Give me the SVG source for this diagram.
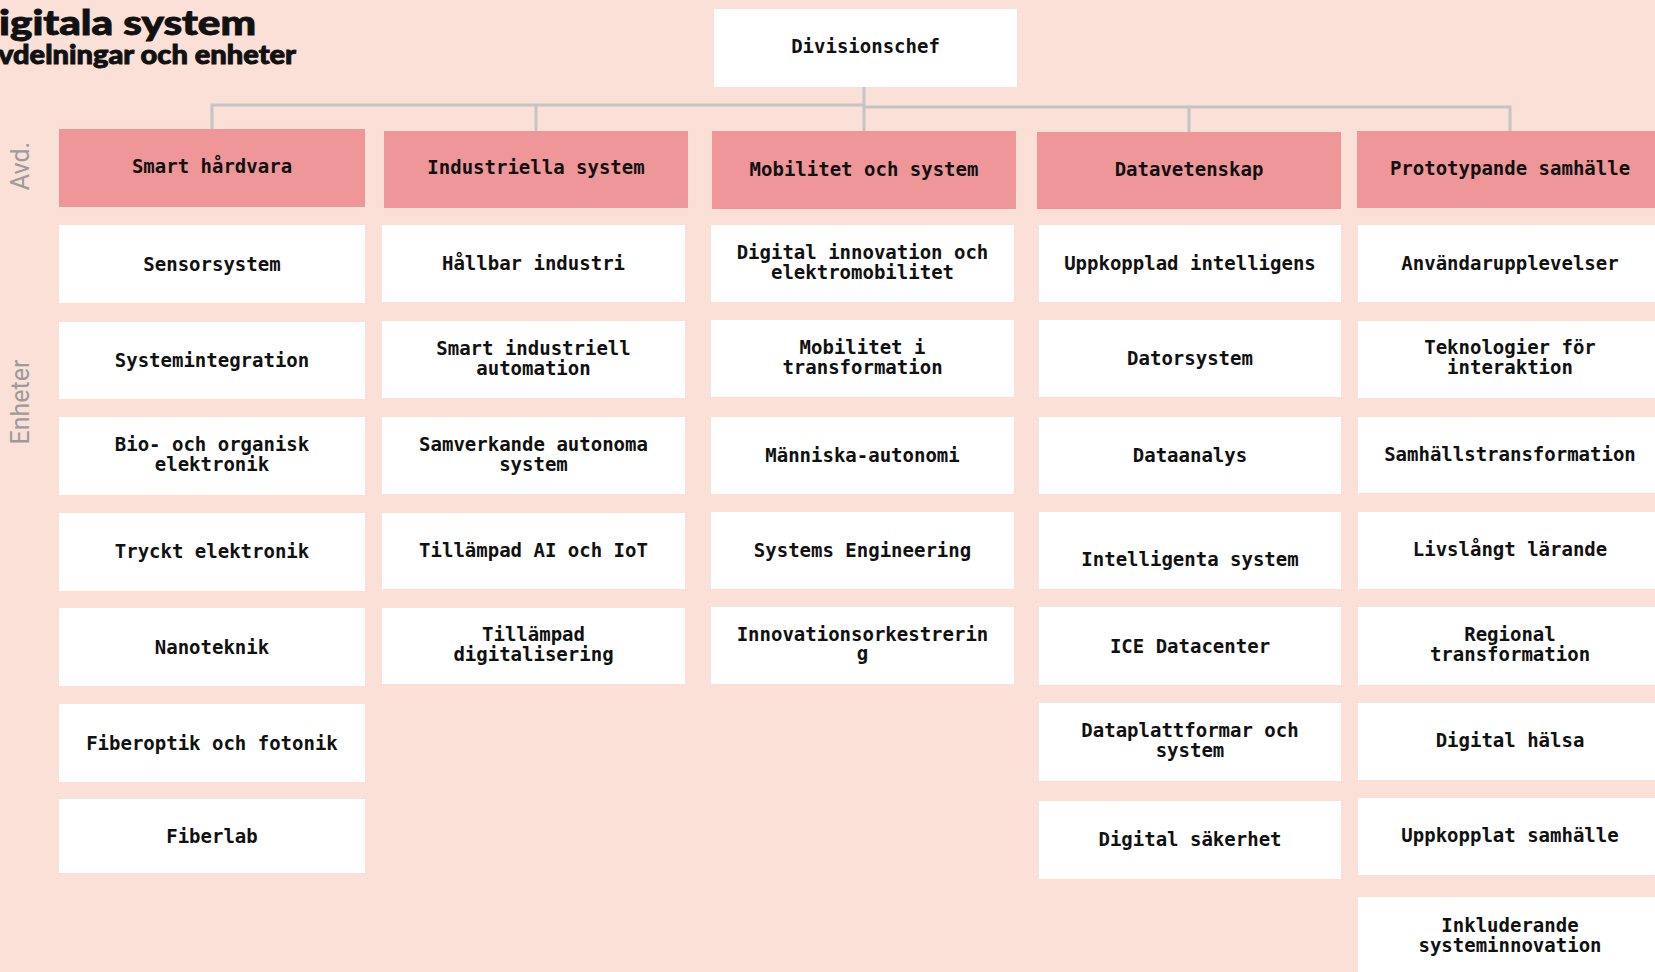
<svg xmlns="http://www.w3.org/2000/svg" width="1655" height="972" viewBox="0 0 1655 972">
<style>
.hdr{fill:#ef9698}
.unit{fill:#ffffff}
.t{font-family:"DejaVu Sans Mono","Liberation Mono",monospace;font-weight:bold;font-size:19px;fill:#111;text-anchor:middle}
.side{font-family:Roboto,"Liberation Sans",sans-serif;font-weight:400;font-size:25px;fill:#9d9a98;text-anchor:middle}
.ttl{font-family:Lato,"Liberation Sans",sans-serif;font-weight:900;fill:#111;stroke:#111;stroke-width:0.9}
.conn{fill:none;stroke:#c4c4c4;stroke-width:3}
</style>
<rect width="1655" height="972" fill="#fae0d7"/>
<g id="title">
<text class="ttl" x="-1" y="35" font-size="35" textLength="257" lengthAdjust="spacingAndGlyphs">igitala system</text>
<text class="ttl" x="-2" y="64" font-size="26" textLength="298" lengthAdjust="spacingAndGlyphs">vdelningar och enheter</text>
</g>
<g id="side-labels">
<text class="side" transform="translate(29,166) rotate(-90)">Avd.</text>
<text class="side" transform="translate(29,402) rotate(-90)">Enheter</text>
</g>
<g id="connectors">
<path class="conn" d="M864,87V131"/>
<path class="conn" d="M212,129V105H864"/>
<path class="conn" d="M536,131V105"/>
<path class="conn" d="M864,107H1510V131"/>
<path class="conn" d="M1189,107V132"/>
</g>
<g id="divisionschef"><rect class="unit" x="714" y="9" width="303" height="78"/><text class="t" x="865.5" y="53">Divisionschef</text></g>

<g id="col1">
<g id="smart-hardvara"><rect class="hdr" x="59" y="129" width="306" height="78"/><text class="t" x="212" y="173">Smart hårdvara</text></g>
<g id="sensorsystem"><rect class="unit" x="59" y="225" width="306" height="78"/><text class="t" x="212" y="271">Sensorsystem</text></g>
<g id="systemintegration"><rect class="unit" x="59" y="322" width="306" height="77"/><text class="t" x="212" y="367">Systemintegration</text></g>
<g id="bio-organisk"><rect class="unit" x="59" y="417" width="306" height="78"/><text class="t" x="212" y="451">Bio- och organisk<tspan x="212" dy="20">elektronik</tspan></text></g>
<g id="tryckt"><rect class="unit" x="59" y="513" width="306" height="78"/><text class="t" x="212" y="558">Tryckt elektronik</text></g>
<g id="nanoteknik"><rect class="unit" x="59" y="608" width="306" height="78"/><text class="t" x="212" y="654">Nanoteknik</text></g>
<g id="fiberoptik"><rect class="unit" x="59" y="704" width="306" height="78"/><text class="t" x="212" y="750">Fiberoptik och fotonik</text></g>
<g id="fiberlab"><rect class="unit" x="59" y="799" width="306" height="74"/><text class="t" x="212" y="843">Fiberlab</text></g>
</g>

<g id="col2">
<g id="industriella"><rect class="hdr" x="384" y="131" width="304" height="77"/><text class="t" x="536" y="174">Industriella system</text></g>
<g id="hallbar"><rect class="unit" x="382" y="225" width="303" height="77"/><text class="t" x="533.5" y="270">Hållbar industri</text></g>
<g id="smart-industriell"><rect class="unit" x="382" y="321" width="303" height="77"/><text class="t" x="533.5" y="355">Smart industriell<tspan x="533.5" dy="20">automation</tspan></text></g>
<g id="samverkande"><rect class="unit" x="382" y="417" width="303" height="77"/><text class="t" x="533.5" y="451">Samverkande autonoma<tspan x="533.5" dy="20">system</tspan></text></g>
<g id="ai-iot"><rect class="unit" x="382" y="513" width="303" height="76"/><text class="t" x="533.5" y="557">Tillämpad AI och IoT</text></g>
<g id="digitalisering"><rect class="unit" x="382" y="608" width="303" height="76"/><text class="t" x="533.5" y="641">Tillämpad<tspan x="533.5" dy="20">digitalisering</tspan></text></g>
</g>

<g id="col3">
<g id="mobilitet"><rect class="hdr" x="712" y="131" width="304" height="78"/><text class="t" x="864" y="176">Mobilitet och system</text></g>
<g id="digital-innovation"><rect class="unit" x="711" y="225" width="303" height="77"/><text class="t" x="862.5" y="259">Digital innovation och<tspan x="862.5" dy="20">elektromobilitet</tspan></text></g>
<g id="mobilitet-transformation"><rect class="unit" x="711" y="320" width="303" height="77"/><text class="t" x="862.5" y="354">Mobilitet i<tspan x="862.5" dy="20">transformation</tspan></text></g>
<g id="manniska"><rect class="unit" x="711" y="417" width="303" height="77"/><text class="t" x="862.5" y="462">Människa-autonomi</text></g>
<g id="systems-eng"><rect class="unit" x="711" y="512" width="303" height="77"/><text class="t" x="862.5" y="557">Systems Engineering</text></g>
<g id="innovationsorkestrering"><rect class="unit" x="711" y="607" width="303" height="77"/><text class="t" x="862.5" y="641">Innovationsorkestrerin<tspan x="862.5" dy="19">g</tspan></text></g>
</g>

<g id="col4">
<g id="datavetenskap"><rect class="hdr" x="1037" y="132" width="304" height="77"/><text class="t" x="1189" y="176">Datavetenskap</text></g>
<g id="uppkopplad"><rect class="unit" x="1039" y="225" width="302" height="77"/><text class="t" x="1190" y="270">Uppkopplad intelligens</text></g>
<g id="datorsystem"><rect class="unit" x="1039" y="320" width="302" height="77"/><text class="t" x="1190" y="365">Datorsystem</text></g>
<g id="dataanalys"><rect class="unit" x="1039" y="417" width="302" height="77"/><text class="t" x="1190" y="462">Dataanalys</text></g>
<g id="intelligenta"><rect class="unit" x="1039" y="512" width="302" height="77"/><text class="t" x="1190" y="566">Intelligenta system</text></g>
<g id="ice"><rect class="unit" x="1039" y="607" width="302" height="78"/><text class="t" x="1190" y="653">ICE Datacenter</text></g>
<g id="dataplattformar"><rect class="unit" x="1039" y="703" width="302" height="78"/><text class="t" x="1190" y="737">Dataplattformar och<tspan x="1190" dy="20">system</tspan></text></g>
<g id="digital-sakerhet"><rect class="unit" x="1039" y="801" width="302" height="78"/><text class="t" x="1190" y="846">Digital säkerhet</text></g>
</g>

<g id="col5">
<g id="prototypande"><rect class="hdr" x="1357" y="131" width="304" height="77"/><text class="t" x="1510" y="175">Prototypande samhälle</text></g>
<g id="anvandarupplevelser"><rect class="unit" x="1358" y="225" width="304" height="77"/><text class="t" x="1510" y="270">Användarupplevelser</text></g>
<g id="teknologier"><rect class="unit" x="1358" y="321" width="304" height="77"/><text class="t" x="1510" y="354">Teknologier för<tspan x="1510" dy="20">interaktion</tspan></text></g>
<g id="samhallstransformation"><rect class="unit" x="1358" y="417" width="304" height="76"/><text class="t" x="1510" y="461">Samhällstransformation</text></g>
<g id="livslangt"><rect class="unit" x="1358" y="512" width="304" height="77"/><text class="t" x="1510" y="556">Livslångt lärande</text></g>
<g id="regional"><rect class="unit" x="1358" y="607" width="304" height="78"/><text class="t" x="1510" y="641">Regional<tspan x="1510" dy="20">transformation</tspan></text></g>
<g id="digital-halsa"><rect class="unit" x="1358" y="703" width="304" height="77"/><text class="t" x="1510" y="747">Digital hälsa</text></g>
<g id="uppkopplat"><rect class="unit" x="1358" y="798" width="304" height="77"/><text class="t" x="1510" y="842">Uppkopplat samhälle</text></g>
<g id="inkluderande"><rect class="unit" x="1358" y="897" width="304" height="90"/><text class="t" x="1510" y="932">Inkluderande<tspan x="1510" dy="20">systeminnovation</tspan></text></g>
</g>
</svg>
